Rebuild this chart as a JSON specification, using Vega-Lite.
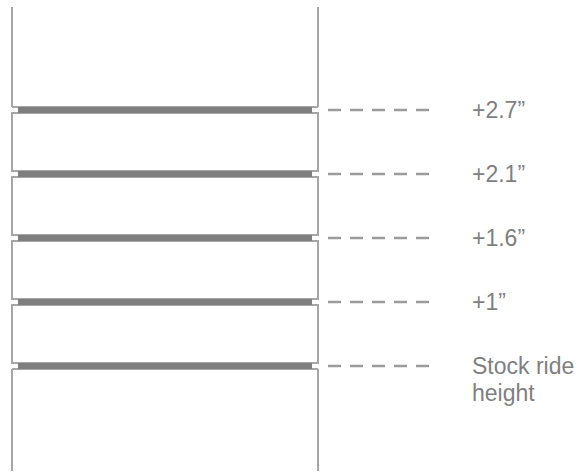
{
  "$schema": "https://vega.github.io/schema/vega-lite/v6.json",
  "width": 580,
  "height": 473,
  "padding": 0,
  "autosize": {"type": "fit", "contains": "padding"},
  "background": "white",
  "config": {"view": {"stroke": null}},
  "datasets": {
    "levels": [
      {"level": 0, "y": 366, "label": "Stock ride\nheight"},
      {"level": 1, "y": 302, "label": "+1”"},
      {"level": 2, "y": 238, "label": "+1.6”"},
      {"level": 3, "y": 174, "label": "+2.1”"},
      {"level": 4, "y": 110, "label": "+2.7”"}
    ],
    "spacers": [
      {"spacer": 1, "top": 113, "bottom": 171},
      {"spacer": 2, "top": 177, "bottom": 235},
      {"spacer": 3, "top": 241, "bottom": 299},
      {"spacer": 4, "top": 305, "bottom": 363}
    ],
    "frame": [
      {"part": "upper left", "x": 12, "x2": 12, "y": 7, "y2": 107},
      {"part": "upper right", "x": 318, "x2": 318, "y": 7, "y2": 107},
      {"part": "upper base", "x": 12, "x2": 318, "y": 107, "y2": 107},
      {"part": "lower top", "x": 12, "x2": 318, "y": 369, "y2": 369},
      {"part": "lower left", "x": 12, "x2": 12, "y": 369, "y2": 471},
      {"part": "lower right", "x": 318, "x2": 318, "y": 369, "y2": 471}
    ]
  },
  "encoding": {},
  "layer": [
    {
      "data": {"name": "frame"},
      "mark": {"type": "rule", "stroke": "#a6a6a6", "strokeWidth": 2},
      "encoding": {
        "x": {"field": "x", "type": "quantitative", "scale": {"domain": [0, 580], "nice": false, "zero": false}, "axis": null},
        "x2": {"field": "x2"},
        "y": {"field": "y", "type": "quantitative", "scale": {"domain": [473, 0], "nice": false, "zero": false}, "axis": null},
        "y2": {"field": "y2"}
      }
    },
    {
      "data": {"name": "spacers"},
      "mark": {"type": "rect", "fill": "white", "stroke": "#a6a6a6", "strokeWidth": 2},
      "encoding": {
        "x": {"datum": 12, "type": "quantitative"},
        "x2": {"datum": 318},
        "y": {"field": "top", "type": "quantitative"},
        "y2": {"field": "bottom"}
      }
    },
    {
      "data": {"name": "levels"},
      "mark": {"type": "rule", "stroke": "#7f7f7f", "strokeWidth": 6, "strokeCap": "butt"},
      "encoding": {
        "x": {"datum": 18, "type": "quantitative"},
        "x2": {"datum": 312},
        "y": {"field": "y", "type": "quantitative"}
      }
    },
    {
      "data": {"name": "levels"},
      "mark": {"type": "rule", "stroke": "#9a9a9a", "strokeWidth": 2.5, "strokeDash": [13, 9], "strokeCap": "butt"},
      "encoding": {
        "x": {"datum": 328, "type": "quantitative"},
        "x2": {"datum": 430},
        "y": {"field": "y", "type": "quantitative"}
      }
    },
    {
      "data": {"name": "levels"},
      "mark": {"type": "text", "align": "left", "baseline": "alphabetic", "dy": 8, "font": "Liberation Sans", "fontSize": 23, "color": "#7f7f7f", "lineBreak": "\n", "lineHeight": 27},
      "encoding": {
        "x": {"datum": 472, "type": "quantitative"},
        "y": {"field": "y", "type": "quantitative"},
        "text": {"field": "label"}
      }
    }
  ]
}
